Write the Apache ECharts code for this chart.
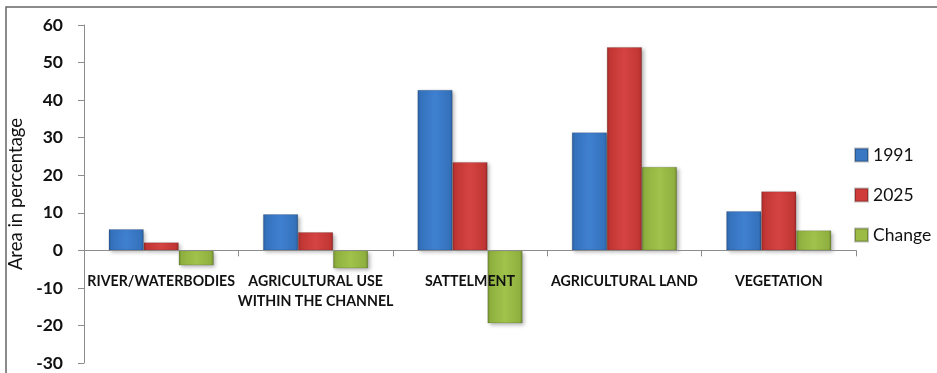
<!DOCTYPE html>
<html><head><meta charset="utf-8">
<script src="https://cdn.jsdelivr.net/npm/echarts@6/dist/echarts.min.js"></script>
<style>html,body{margin:0;padding:0;background:#fff}#c{width:937px;height:373px}</style>
</head><body><div id="c"></div>
<script>
const categories = ['RIVER/WATERBODIES', 'AGRICULTURAL USE\nWITHIN THE CHANNEL', 'SATTELMENT', 'AGRICULTURAL LAND', 'VEGETATION'];
const seriesNames = ['1991', '2025', 'Change'];
const v1991 = [5.6, 9.6, 42.7, 31.4, 10.4];
const v2025 = [2.1, 4.8, 23.5, 54.1, 15.7];
const vChange = [-4.0, -4.8, -19.4, 22.2, 5.3];
const yTicks = [-30, -20, -10, 0, 10, 20, 30, 40, 50, 60];

const FONT = 'Lato, "Open Sans", sans-serif';
const Y_MIN = -30, Y_MAX = 60, GRID_TOP = 25, GRID_BOTTOM = 10, H = 373;
const plotH = H - GRID_TOP - GRID_BOTTOM;
const zeroOffset = -(0 - Y_MIN) / (Y_MAX - Y_MIN) * plotH;

function grad(dark, mid, light) {
  return new echarts.graphic.LinearGradient(0, 0, 1, 0, [
    {offset: 0, color: dark}, {offset: 0.08, color: mid}, {offset: 0.5, color: light},
    {offset: 0.92, color: mid}, {offset: 1, color: dark}
  ]);
}
const colors = [
  grad('#2a5d9c', '#3572bd', '#3f80d0'),
  grad('#9e2a28', '#c13634', '#d54442'),
  grad('#6f8a2e', '#8fb03f', '#a0c34c')
];
const solid = ['#3a78c4', '#d03c3a', '#9bbb45'];
const data = [v1991, v2025, vChange];

const chart = echarts.init(document.getElementById('c'), null, {renderer: 'canvas'});
chart.setOption({
  animation: false,
  textStyle: {fontFamily: FONT},
  grid: {left: 84, right: 81, top: GRID_TOP, bottom: GRID_BOTTOM, containLabel: false, outerBoundsMode: 'none'},
  legend: {
    orient: 'vertical', left: 854, top: 146, padding: 0,
    itemWidth: 13, itemHeight: 13, itemGap: 22,
    textStyle: {fontFamily: FONT, fontSize: 17.5, color: '#111'},
    data: seriesNames.map((n, i) => ({name: n, icon: 'rect', itemStyle: {color: solid[i]}}))
  },
  xAxis: {
    type: 'category', data: categories, z: 5, offset: zeroOffset,
    axisLine: {onZero: false, lineStyle: {color: '#8c8c8c', width: 1}},
    axisTick: {show: true, length: 6, lineStyle: {color: '#8c8c8c'}},
    axisLabel: {margin: 21, interval: 0, fontFamily: FONT, fontWeight: 'bold', fontSize: 14.2, color: '#111', lineHeight: 20}
  },
  yAxis: {
    type: 'value', min: Y_MIN, max: Y_MAX, interval: 10,
    name: 'Area in percentage', nameLocation: 'middle', nameGap: 57, nameRotate: 90,
    nameTextStyle: {fontFamily: FONT, fontSize: 18.5, color: '#111'},
    axisLine: {show: true, lineStyle: {color: '#8c8c8c'}},
    axisTick: {show: true, length: 6, lineStyle: {color: '#8c8c8c'}},
    axisLabel: {margin: 21, fontFamily: FONT, fontWeight: 'bold', fontSize: 17.5, color: '#111',
      formatter: v => yTicks.includes(v) ? String(v) : ''},
    splitLine: {show: false}
  },
  series: seriesNames.map((n, i) => ({
    name: n, type: 'bar', data: data[i],
    barGap: '0%', barCategoryGap: '32%',
    itemStyle: {color: colors[i], borderColor: 'rgba(0,0,0,0.25)', borderWidth: 0.6,
      shadowBlur: 4, shadowColor: 'rgba(0,0,0,0.3)', shadowOffsetX: 2, shadowOffsetY: 2}
  })),
  graphic: [{
    type: 'rect', shape: {x: 6, y: 7, width: 960, height: 400},
    style: {fill: 'none', stroke: '#666', lineWidth: 1.5}, silent: true
  }]
});
</script></body></html>
